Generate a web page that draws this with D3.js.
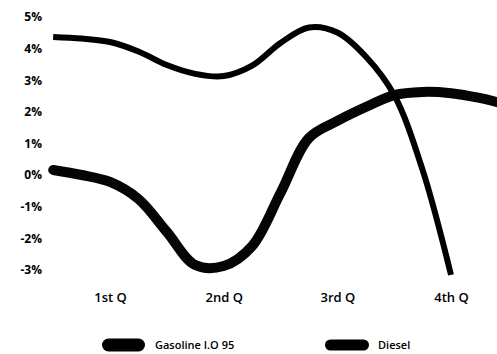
<!DOCTYPE html>
<html>
<head>
<meta charset="utf-8">
<script src="https://cdn.jsdelivr.net/npm/d3@7"></script>
<style>
  html, body { margin: 0; padding: 0; background: #fff; }
  svg { display: block; }
  text { font-family: "Open Sans", "DejaVu Sans", sans-serif; fill: #000; }
</style>
</head>
<body>
<div id="chart"></div>
<script>
// ---- data ----
const quarters = ["1st Q", "2nd Q", "3rd Q", "4th Q"];
const quarterPos = [1, 2, 3, 4];
const yTicks = [5, 4, 3, 2, 1, 0, -1, -2, -3];

// sample positions in quarter units
const gasX = [0.5, 0.75, 1, 1.25, 1.5, 1.75, 2, 2.25, 2.5, 2.75, 3, 3.25, 3.5, 3.75, 4];
const gasoline = [4.37, 4.32, 4.21, 3.91, 3.48, 3.20, 3.13, 3.46, 4.18, 4.67, 4.51, 3.75, 2.53, 0.16, -3.16];

const dieX = [0.5, 0.75, 1, 1.25, 1.5, 1.75, 2, 2.25, 2.5, 2.75, 3, 3.25, 3.5, 3.75, 4, 4.25, 4.5];
const diesel = [0.16, 0.0, -0.22, -0.76, -1.80, -2.85, -2.88, -2.25, -0.57, 1.17, 1.71, 2.15, 2.53, 2.63, 2.59, 2.44, 2.22];

const seriesNames = ["Gasoline I.O 95", "Diesel"];

// ---- drawing ----
const W = 497, H = 354;
const svg = d3.select("#chart").append("svg")
  .attr("width", W).attr("height", H);

const x = d3.scaleLinear().domain([1, 4]).range([110, 451]);
const y = d3.scaleLinear().domain([-3, 5]).range([269.8, 17]);

// y labels
const yAxis = d3.axisLeft(y).tickValues(yTicks).tickSize(0).tickPadding(0)
  .tickFormat(d => d + "%");
const gy = svg.append("g").attr("transform", "translate(42,0)").call(yAxis);
gy.select(".domain").remove();
gy.selectAll("text")
  .style("font-family", '"Open Sans", "DejaVu Sans", sans-serif')
  .style("font-size", "12px").style("font-weight", "700").attr("fill", "#000");

// x labels
const xAxis = d3.axisBottom(x).tickValues(quarterPos).tickSize(0).tickPadding(0)
  .tickFormat((d, i) => quarters[i]);
const gx = svg.append("g").attr("transform", "translate(0,293)").call(xAxis);
gx.select(".domain").remove();
gx.selectAll("text")
  .style("font-family", '"Open Sans", "DejaVu Sans", sans-serif')
  .style("font-size", "13px").style("font-weight", "600").attr("fill", "#000");

const line = d3.line()
  .x(d => x(d[0])).y(d => y(d[1]))
  .curve(d3.curveCatmullRom.alpha(0.5));

svg.append("path")
  .datum(dieX.map((v, i) => [v, diesel[i]]))
  .attr("d", line)
  .attr("fill", "none").attr("stroke", "#050505")
  .attr("stroke-width", 10).attr("stroke-linecap", "round");

svg.append("path")
  .datum(gasX.map((v, i) => [v, gasoline[i]]))
  .attr("d", line)
  .attr("fill", "none").attr("stroke", "#000")
  .attr("stroke-width", 6).attr("stroke-linecap", "butt");

// legend
const legend = [
  { name: seriesNames[0], sx: 102, sw: 43, sh: 13, tx: 155 },
  { name: seriesNames[1], sx: 325, sw: 44, sh: 11, tx: 378 }
];
const lg = svg.append("g");
legend.forEach(l => {
  lg.append("rect")
    .attr("x", l.sx).attr("y", 345 - l.sh / 2)
    .attr("width", l.sw).attr("height", l.sh)
    .attr("rx", l.sh / 2).attr("ry", l.sh / 2)
    .attr("fill", "#000");
  lg.append("text")
    .attr("x", l.tx).attr("y", 345).attr("dy", "0.35em")
    .style("font-size", "11px").style("font-weight", "600")
    .text(l.name);
});
</script>
</body>
</html>
